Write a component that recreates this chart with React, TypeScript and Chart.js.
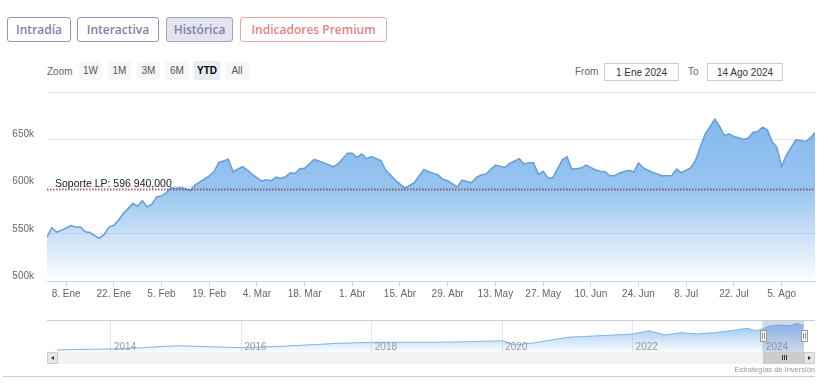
import React, { useEffect, useRef } from 'react';
import { Chart, registerables } from 'chart.js';

Chart.register(...registerables);

const FONT = '"Liberation Sans", Arial, Helvetica, sans-serif';

// ---- main series (trading-day index since 2 Jan 2024, value) ----
const dayIdx = [
  0, 1, 2, 3, 5, 6, 7, 8, 9, 10, 11, 12, 13, 14, 15, 16, 18, 19, 20, 21, 22, 23, 24, 25, 26, 27, 28, 29, 30, 31,
  33, 34, 35, 36, 38, 39, 41, 42, 43, 45, 46, 47, 48, 49, 50, 51, 52, 53, 54, 56, 58, 60, 61, 63, 64, 65, 66, 67,
  68, 70, 71, 73, 75, 77, 79, 80, 82, 83, 84, 86, 87, 89, 90, 91, 92, 94, 96, 97, 99, 100, 101, 102, 103, 104,
  105, 106, 108, 109, 110, 112, 113, 115, 116, 117, 118, 119, 120, 122, 123, 124, 125, 127, 129, 131, 132, 133,
  135, 136, 137, 138, 140, 141, 142, 143, 144, 146, 147, 148, 149, 150, 151, 152, 153, 154, 155, 157, 158, 159,
  160, 161,
];
const values = [
  546500, 556400, 551800, 553600, 558500, 557100, 557100, 552100, 551400, 547900, 545400, 549300, 557100, 558900,
  564200, 571300, 581900, 579100, 584800, 578400, 581200, 589000, 590100, 593300, 598900, 597900, 598900, 597500,
  595400, 601400, 607800, 611300, 615600, 625200, 628700, 615600, 620900, 617400, 613100, 605700, 607100, 606000,
  609900, 608500, 610300, 614500, 613800, 618800, 619200, 628700, 625200, 620900, 623800, 635100, 635100, 630900,
  634400, 629400, 631600, 627300, 617400, 606700, 598200, 603900, 618100, 615600, 612100, 607400, 606000, 599600,
  606700, 603900, 609600, 612100, 613100, 622700, 620200, 624500, 629400, 623800, 625200, 625200, 612800, 616000,
  609200, 608900, 628000, 631600, 618100, 619500, 622700, 617400, 616000, 615600, 611300, 611300, 614200, 617000,
  615300, 624800, 619500, 614900, 611300, 611700, 618400, 614500, 619900, 628000, 642200, 655700, 671300, 663500,
  653900, 655700, 652800, 650000, 651100, 657100, 658200, 662800, 660000, 647500, 641500, 620900, 633300, 649300,
  648600, 647500, 651100, 657100,
];
const lastDay = 161;

// x-axis tick labels (trading-day index of each labelled Monday)
const tickIdx = [4, 14, 24, 34, 44, 54, 64, 74, 84, 94, 104, 114, 124, 134, 144, 154];
const tickLabels = [
  '8. Ene', '22. Ene', '5. Feb', '19. Feb', '4. Mar', '18. Mar', '1. Abr', '15. Abr',
  '29. Abr', '13. May', '27. May', '10. Jun', '24. Jun', '8. Jul', '22. Jul', '5. Ago',
];
const yTicks = [500000, 550000, 600000, 650000, 700000];

const supportValue = 596940;
const supportLabel = 'Soporte LP: 596 940,000';

// ---- navigator series (year, value in thousands) ----
const navYears = [
  2013.17, 2013.5, 2014.0, 2014.5, 2015.0, 2015.5, 2016.0, 2016.5, 2017.0, 2017.5, 2018.0, 2018.5, 2019.0,
  2019.5, 2020.0, 2020.2, 2020.5, 2021.0, 2021.5, 2022.0, 2022.25, 2022.5, 2022.75, 2023.0, 2023.25, 2023.5,
  2023.75, 2023.9, 2024.0, 2024.1, 2024.25, 2024.4, 2024.53, 2024.6, 2024.62,
];
const navValues = [
  74, 86, 97, 126, 170, 148, 126, 148, 186, 224, 246, 246, 246, 259, 281, 186, 237, 357, 393, 431, 504, 408,
  460, 431, 460, 504, 557, 504, 546, 610, 630, 612, 671, 621, 657,
];
const navYearTicks = [2014, 2016, 2018, 2020, 2022, 2024];
const navStart = 2013.172;
const navEnd = 2024.629;
const rangeStart = 2024.0;

const zoomButtons = ['1W', '1M', '3M', '6M', 'YTD', 'All'];
const fromText = '1 Ene 2024';
const toText = '14 Ago 2024';

const supportPlugin = {
  id: 'support',
  afterDatasetsDraw(chart: any) {
    const { ctx, chartArea, scales } = chart;
    const y = Math.round(scales.y.getPixelForValue(supportValue)) + 0.5;
    ctx.save();
    ctx.strokeStyle = 'rgba(125,45,70,0.7)';
    ctx.lineWidth = 2;
    ctx.setLineDash([1.5, 1.5]);
    ctx.beginPath();
    ctx.moveTo(chartArea.left, y);
    ctx.lineTo(chartArea.right, y);
    ctx.stroke();
    ctx.setLineDash([]);
    ctx.fillStyle = '#222';
    ctx.font = `10.5px ${FONT}`;
    ctx.textBaseline = 'alphabetic';
    ctx.textAlign = 'left';
    ctx.fillText(supportLabel, chartArea.left + 8, y - 3);
    ctx.restore();
  },
};

const navPlugin = {
  id: 'navdeco',
  afterDatasetsDraw(chart: any) {
    const { ctx, chartArea, scales } = chart;
    const xs = scales.x;
    ctx.save();
    // year labels
    ctx.fillStyle = '#999';
    ctx.font = `10px ${FONT}`;
    ctx.textBaseline = 'middle';
    ctx.textAlign = 'left';
    navYearTicks.forEach((yr) => {
      ctx.fillText(String(yr), xs.getPixelForValue(yr) + 3, chartArea.bottom - 5);
    });
    // outline
    ctx.strokeStyle = '#cccccc';
    ctx.lineWidth = 1;
    ctx.beginPath();
    ctx.moveTo(47, chartArea.top - 0.5);
    ctx.lineTo(815, chartArea.top - 0.5);
    ctx.stroke();
    // selected range mask
    const x0 = Math.round(xs.getPixelForValue(rangeStart));
    const x1 = Math.round(xs.getPixelForValue(navEnd));
    ctx.fillStyle = 'rgba(102,133,194,0.3)';
    ctx.fillRect(x0, chartArea.top, x1 - x0, chartArea.bottom - chartArea.top);
    // scrollbar
    const sTop = chartArea.bottom;
    const sH = 12;
    ctx.fillStyle = '#f2f2f2';
    ctx.fillRect(47, sTop, 768, sH);
    ctx.fillStyle = '#e6e6e6';
    ctx.fillRect(47, sTop, 10, sH);
    ctx.fillRect(805, sTop, 10, sH);
    ctx.strokeStyle = '#cccccc';
    ctx.strokeRect(47.5, sTop + 0.5, 10, sH - 1);
    ctx.strokeRect(804.5, sTop + 0.5, 10, sH - 1);
    ctx.fillStyle = '#333';
    ctx.beginPath();
    ctx.moveTo(51, sTop + 6);
    ctx.lineTo(54, sTop + 4);
    ctx.lineTo(54, sTop + 8);
    ctx.closePath();
    ctx.fill();
    ctx.beginPath();
    ctx.moveTo(811, sTop + 6);
    ctx.lineTo(808, sTop + 4);
    ctx.lineTo(808, sTop + 8);
    ctx.closePath();
    ctx.fill();
    // thumb
    ctx.fillStyle = '#cccccc';
    ctx.fillRect(x0, sTop, x1 - x0, sH);
    const cx = Math.round((x0 + x1) / 2);
    ctx.strokeStyle = '#333';
    ctx.beginPath();
    [-2, 0, 2].forEach((d) => {
      ctx.moveTo(cx + d + 0.5, sTop + 3);
      ctx.lineTo(cx + d + 0.5, sTop + 8);
    });
    ctx.stroke();
    // handles
    const hy = chartArea.top + 9;
    [x0, x1].forEach((hx) => {
      ctx.fillStyle = '#f2f2f2';
      ctx.fillRect(hx - 3, hy, 6, 12);
      ctx.strokeStyle = '#999';
      ctx.strokeRect(hx - 2.5, hy + 0.5, 6, 11);
      ctx.beginPath();
      ctx.moveTo(hx - 0.5, hy + 3);
      ctx.lineTo(hx - 0.5, hy + 9);
      ctx.moveTo(hx + 1.5, hy + 3);
      ctx.lineTo(hx + 1.5, hy + 9);
      ctx.stroke();
    });
    ctx.restore();
  },
};

const topBtn: React.CSSProperties = {
  position: 'absolute',
  top: 17,
  height: 25,
  boxSizing: 'border-box',
  border: '1px solid #9494bc',
  borderRadius: 3,
  display: 'flex',
  alignItems: 'center',
  justifyContent: 'center',
  fontFamily: '"Open Sans", Lato, sans-serif',
  fontWeight: 600,
  fontSize: 12,
  color: '#8080ac',
  background: '#fff',
};

export default function App() {
  const mainRef = useRef<HTMLCanvasElement>(null);
  const navRef = useRef<HTMLCanvasElement>(null);

  useEffect(() => {
    document.body.style.margin = '0';
    Chart.defaults.font.family = FONT;

    const mainData = dayIdx.map((d, i) => ({ x: d, y: values[i] }));
    const main = new Chart(mainRef.current as HTMLCanvasElement, {
      type: 'line',
      data: {
        datasets: [
          {
            data: mainData,
            borderColor: '#6a9fd6',
            borderWidth: 1.6,
            pointRadius: 0,
            tension: 0,
            fill: 'start',
            backgroundColor: (c: any) => {
              const area = c.chart.chartArea;
              if (!area) return 'rgba(124,181,236,0.5)';
              const g = c.chart.ctx.createLinearGradient(0, area.top, 0, area.bottom);
              g.addColorStop(0, 'rgba(124,181,236,1)');
              g.addColorStop(0.52, 'rgba(124,181,236,0.78)');
              g.addColorStop(1, 'rgba(124,181,236,0.02)');
              return g;
            },
          },
        ],
      },
      options: {
        animation: false,
        responsive: false,
        maintainAspectRatio: false,
        layout: { padding: { left: 0, right: 13, top: 7, bottom: 0 } },
        plugins: { legend: { display: false }, tooltip: { enabled: false } },
        scales: {
          x: {
            type: 'linear',
            min: 0,
            max: lastDay,
            afterBuildTicks: (s: any) => {
              s.ticks = tickIdx.map((v) => ({ value: v }));
            },
            afterFit: (s: any) => {
              s.height = 24;
              s.paddingLeft = 0;
              s.paddingRight = 0;
            },
            ticks: {
              autoSkip: false,
              maxRotation: 0,
              color: '#666',
              font: { size: 10 },
              padding: 1,
              callback: (v: any) => {
                const k = tickIdx.indexOf(Number(v));
                return k >= 0 ? tickLabels[k] : '';
              },
            },
            grid: { drawOnChartArea: false, drawTicks: true, tickLength: 6, color: '#ccd6eb' },
            border: { color: '#ccd6eb' },
          },
          y: {
            min: 500000,
            max: 700000,
            afterBuildTicks: (s: any) => {
              s.ticks = yTicks.map((v) => ({ value: v }));
            },
            afterFit: (s: any) => {
              s.width = 47;
              s.paddingTop = 0;
              s.paddingBottom = 0;
            },
            ticks: {
              color: '#666',
              font: { size: 10 },
              padding: 13,
              labelOffset: -5,
              callback: (v: any) => (Number(v) >= 700000 ? '' : Number(v) / 1000 + 'k'),
            },
            grid: { color: '#e6e6e6', drawTicks: false },
            border: { display: false },
          },
        },
      },
      plugins: [supportPlugin],
    } as any);

    const navData = navYears.map((yr, i) => ({ x: yr, y: navValues[i] }));
    const nav = new Chart(navRef.current as HTMLCanvasElement, {
      type: 'line',
      data: {
        datasets: [
          {
            data: navData,
            borderColor: '#7cb5ec',
            borderWidth: 1,
            pointRadius: 0,
            tension: 0,
            fill: 'start',
            backgroundColor: (c: any) => {
              const area = c.chart.chartArea;
              if (!area) return 'rgba(124,181,236,0.4)';
              const g = c.chart.ctx.createLinearGradient(0, area.top, 0, area.bottom);
              g.addColorStop(0, 'rgba(124,181,236,0.85)');
              g.addColorStop(1, 'rgba(124,181,236,0.04)');
              return g;
            },
          },
        ],
      },
      options: {
        animation: false,
        responsive: false,
        maintainAspectRatio: false,
        layout: { padding: { left: 57, right: 24, top: 5, bottom: 14 } },
        plugins: { legend: { display: false }, tooltip: { enabled: false } },
        scales: {
          x: {
            type: 'linear',
            min: navStart,
            max: navEnd,
            afterBuildTicks: (s: any) => {
              s.ticks = navYearTicks.map((v) => ({ value: v }));
            },
            afterFit: (s: any) => {
              s.height = 0;
              s.paddingLeft = 0;
              s.paddingRight = 0;
            },
            ticks: { display: false },
            grid: { color: '#e6e6e6', drawTicks: false },
            border: { display: false },
          },
          y: { display: false, min: 30, max: 720 },
        },
      },
      plugins: [navPlugin],
    } as any);

    return () => {
      main.destroy();
      nav.destroy();
    };
  }, []);

  const zoomLefts = [79, 108, 137, 165, 194, 225];
  const zoomWidths = [23, 23, 23, 24, 26, 24];

  return (
    <div
      style={{
        position: 'absolute',
        left: 0,
        top: 0,
        width: 828,
        height: 384,
        background: '#fff',
        overflow: 'hidden',
        fontFamily: FONT,
      }}
    >
      <div style={{ ...topBtn, left: 7, width: 64 }}>Intradía</div>
      <div style={{ ...topBtn, left: 77, width: 82 }}>Interactiva</div>
      <div style={{ ...topBtn, left: 166, width: 67, background: '#e4e4ed', border: '1px solid #a2a2c4' }}>
        Histórica
      </div>
      <div style={{ ...topBtn, left: 240, width: 147, color: '#e48484', border: '1px solid #e6a6a6' }}>
        Indicadores Premium
      </div>

      <div style={{ position: 'absolute', left: 47, top: 65, fontSize: 10, color: '#666', lineHeight: '14px' }}>
        Zoom
      </div>
      {zoomButtons.map((b, i) => (
        <div
          key={b}
          style={{
            position: 'absolute',
            left: zoomLefts[i],
            top: 61,
            width: zoomWidths[i],
            height: 19,
            background: b === 'YTD' ? '#e6ebf5' : '#f7f7f7',
            borderRadius: 2,
            fontSize: 10,
            fontWeight: b === 'YTD' ? 700 : 400,
            color: b === 'YTD' ? '#000' : '#555',
            display: 'flex',
            alignItems: 'center',
            justifyContent: 'center',
          }}
        >
          {b}
        </div>
      ))}

      <div style={{ position: 'absolute', left: 575, top: 65, fontSize: 10, color: '#666', lineHeight: '14px' }}>
        From
      </div>
      <div
        style={{
          position: 'absolute',
          left: 604,
          top: 63,
          width: 75,
          height: 18,
          boxSizing: 'border-box',
          border: '1px solid #cccccc',
          fontSize: 10,
          color: '#333',
          display: 'flex',
          alignItems: 'center',
          justifyContent: 'center',
        }}
      >
        {fromText}
      </div>
      <div style={{ position: 'absolute', left: 688, top: 65, fontSize: 10, color: '#666', lineHeight: '14px' }}>
        To
      </div>
      <div
        style={{
          position: 'absolute',
          left: 707,
          top: 63,
          width: 76,
          height: 18,
          boxSizing: 'border-box',
          border: '1px solid #cccccc',
          fontSize: 10,
          color: '#333',
          display: 'flex',
          alignItems: 'center',
          justifyContent: 'center',
        }}
      >
        {toText}
      </div>

      <canvas
        ref={mainRef}
        width={828}
        height={220}
        style={{ position: 'absolute', left: 0, top: 85, width: 828, height: 220 }}
      />
      <canvas
        ref={navRef}
        width={828}
        height={50}
        style={{ position: 'absolute', left: 0, top: 316, width: 828, height: 50 }}
      />

      <div
        style={{
          position: 'absolute',
          right: 13,
          top: 365,
          fontSize: 7.5,
          color: '#999',
          lineHeight: '10px',
          whiteSpace: 'nowrap',
        }}
      >
        Estrategias de Inversión
      </div>
      <div style={{ position: 'absolute', left: 3, top: 376, width: 812, height: 1, background: '#cccccc' }} />
    </div>
  );
}
